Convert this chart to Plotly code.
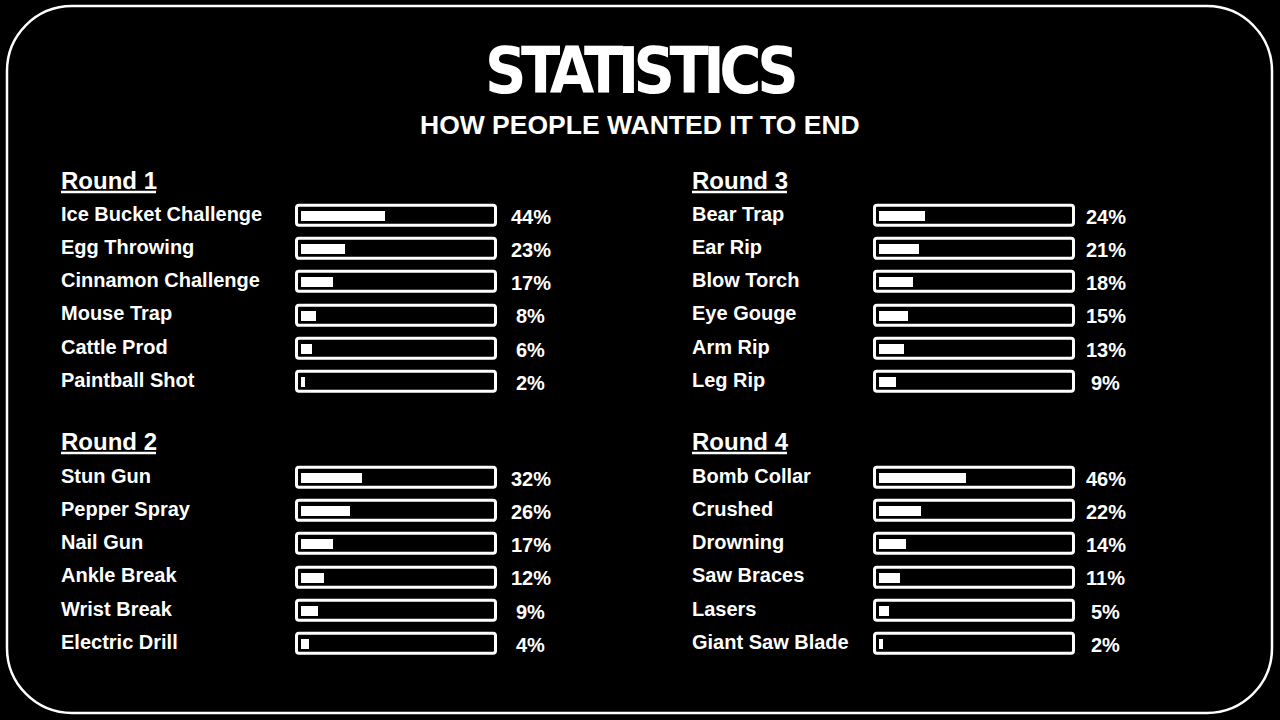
import plotly.graph_objects as go

# ---------------- data ----------------
title_text = "STATISTICS"
subtitle_text = "HOW PEOPLE WANTED IT TO END"

round_names = ["Round 1", "Round 2", "Round 3", "Round 4"]

round1_labels = ["Ice Bucket Challenge", "Egg Throwing", "Cinnamon Challenge",
                 "Mouse Trap", "Cattle Prod", "Paintball Shot"]
round1_values = [44, 23, 17, 8, 6, 2]

round2_labels = ["Stun Gun", "Pepper Spray", "Nail Gun",
                 "Ankle Break", "Wrist Break", "Electric Drill"]
round2_values = [32, 26, 17, 12, 9, 4]

round3_labels = ["Bear Trap", "Ear Rip", "Blow Torch",
                 "Eye Gouge", "Arm Rip", "Leg Rip"]
round3_values = [24, 21, 18, 15, 13, 9]

round4_labels = ["Bomb Collar", "Crushed", "Drowning",
                 "Saw Braces", "Lasers", "Giant Saw Blade"]
round4_values = [46, 22, 14, 11, 5, 2]

full_scale = 100  # each box represents 100 %

# ---------------- layout helpers ----------------
W, H = 1280, 720
FONT = "Liberation Sans, Arial, sans-serif"
WHITE = "#ffffff"


def px(x):
    return x / W


def py(y):
    return 1 - y / H


PX_PER_UNIT = 1.9  # pixels per percent
PAD_PX = 4.5        # distance from fill start to outline centre
LINE_W = 3

panels = [
    # labels, values, name, label_x, fill_x0, header_y, first_row_y, pct_x
    (round1_labels, round1_values, round_names[0], 61, 301, 180, 215.5, 530.5),
    (round2_labels, round2_values, round_names[1], 61, 301, 441, 477.5, 530.5),
    (round3_labels, round3_values, round_names[2], 692, 879, 180, 215.5, 1105.5),
    (round4_labels, round4_values, round_names[3], 692, 879, 441, 477.5, 1105.5),
]
STEP = 33.3

fig = go.Figure()
annotations = []
shapes = []

for i, (labels, values, name, lx, fx0, hy, c0, pctx) in enumerate(panels):
    idx = "" if i == 0 else str(i + 1)
    xa, ya = "x" + idx, "y" + idx
    n = len(labels)
    top = c0 - STEP / 2
    bot = c0 + (n - 1) * STEP + STEP / 2
    # axis covers the outer edges of the outline box (plus 1px safety)
    edge_px = PAD_PX + LINE_W / 2 + 1
    dom0 = fx0 - edge_px
    dom1 = fx0 + full_scale * PX_PER_UNIT + edge_px
    r0 = -edge_px / PX_PER_UNIT
    r1 = full_scale + edge_px / PX_PER_UNIT

    fig.update_layout(**{
        "xaxis" + idx: dict(domain=[px(dom0), px(dom1)], range=[r0, r1],
                            visible=False, fixedrange=True, anchor=ya),
        "yaxis" + idx: dict(domain=[py(bot), py(top)], range=[n - 0.5, -0.5],
                            type="category", categoryorder="array",
                            categoryarray=labels, visible=False,
                            fixedrange=True, anchor=xa),
    })

    pad = PAD_PX / PX_PER_UNIT
    # outline box = full scale
    fig.add_trace(go.Bar(
        x=[full_scale + 2 * pad] * n, y=labels, base=-pad, orientation="h",
        width=0.6, xaxis=xa, yaxis=ya,
        marker=dict(color="#000000", line=dict(color=WHITE, width=LINE_W),
                    cornerradius=3),
        hoverinfo="skip", showlegend=False,
    ))
    # value fill
    fig.add_trace(go.Bar(
        x=values, y=labels, orientation="h", width=0.3,
        xaxis=xa, yaxis=ya,
        marker=dict(color=WHITE, line=dict(width=0)),
        hovertemplate="%{y}: %{x}%<extra></extra>", showlegend=False,
    ))

    for lab, v in zip(labels, values):
        annotations.append(dict(
            x=px(lx), xref="paper", y=lab, yref=ya, text=lab,
            xanchor="left", yanchor="middle", showarrow=False,
            xshift=-2, yshift=2,
            font=dict(family=FONT, size=20, color=WHITE, weight="bold"),
        ))
        annotations.append(dict(
            x=px(pctx), xref="paper", y=lab, yref=ya, text=f"{v}%",
            xanchor="center", yanchor="middle", showarrow=False, yshift=-1,
            font=dict(family=FONT, size=20, color=WHITE, weight="bold"),
        ))

    # round header + underline
    annotations.append(dict(
        x=px(lx), xref="paper", y=py(hy), yref="paper", text=name,
        xanchor="left", yanchor="middle", showarrow=False, xshift=-2,
        font=dict(family=FONT, size=24, color=WHITE, weight="bold"),
    ))
    shapes.append(dict(type="line", xref="paper", yref="paper",
                       x0=px(lx), x1=px(lx + 95), y0=py(hy + 12), y1=py(hy + 12),
                       line=dict(color=WHITE, width=2.5)))

# title
annotations.append(dict(
    x=0.5, xref="paper", y=py(71), yref="paper",
    text=f'<span style="letter-spacing:-5.5px">{title_text}</span>',
    xanchor="center", yanchor="middle", showarrow=False,
    font=dict(family="DejaVu Sans Condensed, Liberation Sans Narrow, sans-serif",
              size=64, color=WHITE, weight="bold"),
))
annotations.append(dict(
    x=0.5, xref="paper", y=py(125), yref="paper", text=subtitle_text,
    xanchor="center", yanchor="middle", showarrow=False,
    font=dict(family=FONT, size=26.5, color=WHITE, weight="bold"),
))

# rounded border
x0, y0, x1, y1, r = 7, 6, 1272, 713, 65
k = 0.5523 * r


def P(x, y):
    return f"{px(x):.5f},{py(y):.5f}"


path = (
    f"M {P(x0 + r, y0)} L {P(x1 - r, y0)} "
    f"C {P(x1 - r + k, y0)} {P(x1, y0 + r - k)} {P(x1, y0 + r)} "
    f"L {P(x1, y1 - r)} "
    f"C {P(x1, y1 - r + k)} {P(x1 - r + k, y1)} {P(x1 - r, y1)} "
    f"L {P(x0 + r, y1)} "
    f"C {P(x0 + r - k, y1)} {P(x0, y1 - r + k)} {P(x0, y1 - r)} "
    f"L {P(x0, y0 + r)} "
    f"C {P(x0, y0 + r - k)} {P(x0 + r - k, y0)} {P(x0 + r, y0)} Z"
)
shapes.append(dict(type="path", xref="paper", yref="paper", path=path,
                   line=dict(color=WHITE, width=2.5), layer="below"))

fig.update_layout(
    width=W, height=H, autosize=False,
    margin=dict(l=0, r=0, t=0, b=0, pad=0),
    paper_bgcolor="#000000", plot_bgcolor="#000000",
    barmode="overlay", bargap=0,
    annotations=annotations, shapes=shapes,
    showlegend=False,
)

fig.write_html("out.html",
               config={"displayModeBar": False},
               post_script="document.body.style.margin='0';"
                           "document.body.style.background='#000';")
